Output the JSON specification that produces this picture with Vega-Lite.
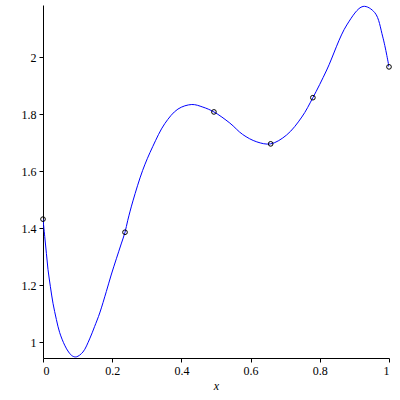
{
  "$schema": "https://vega.github.io/schema/vega-lite/v6.json",
  "width": 346,
  "height": 353,
  "autosize": {"type": "none"},
  "padding": {"left": 43, "top": 5, "right": 11, "bottom": 42},
  "background": "white",
  "config": {
    "view": {"stroke": null},
    "axis": {
      "grid": false,
      "domainColor": "black",
      "tickColor": "black",
      "labelColor": "black",
      "labelFont": "Liberation Serif",
      "labelFontSize": 12,
      "titleFont": "Liberation Serif",
      "titleColor": "black",
      "tickSize": 4,
      "domainWidth": 1,
      "tickWidth": 1
    }
  },
  "datasets": {
    "curve": [
      {"x": 0.0, "y": 1.432},
      {"x": 0.005, "y": 1.371},
      {"x": 0.0098, "y": 1.312},
      {"x": 0.0144, "y": 1.256},
      {"x": 0.0214, "y": 1.195},
      {"x": 0.0289, "y": 1.137},
      {"x": 0.0387, "y": 1.08},
      {"x": 0.0482, "y": 1.034},
      {"x": 0.0626, "y": 0.99},
      {"x": 0.074, "y": 0.966},
      {"x": 0.085, "y": 0.952},
      {"x": 0.0964, "y": 0.949},
      {"x": 0.1154, "y": 0.966},
      {"x": 0.1348, "y": 1.012},
      {"x": 0.149, "y": 1.055},
      {"x": 0.164, "y": 1.103},
      {"x": 0.183, "y": 1.178},
      {"x": 0.197, "y": 1.236},
      {"x": 0.212, "y": 1.293},
      {"x": 0.226, "y": 1.345},
      {"x": 0.237, "y": 1.386},
      {"x": 0.245, "y": 1.428},
      {"x": 0.26, "y": 1.496},
      {"x": 0.288, "y": 1.603},
      {"x": 0.317, "y": 1.686},
      {"x": 0.352, "y": 1.767},
      {"x": 0.39, "y": 1.818},
      {"x": 0.43, "y": 1.834},
      {"x": 0.462, "y": 1.825},
      {"x": 0.494, "y": 1.808},
      {"x": 0.54, "y": 1.769},
      {"x": 0.577, "y": 1.729},
      {"x": 0.618, "y": 1.703},
      {"x": 0.658, "y": 1.696},
      {"x": 0.704, "y": 1.727},
      {"x": 0.748, "y": 1.79},
      {"x": 0.78, "y": 1.858},
      {"x": 0.82, "y": 1.955},
      {"x": 0.878, "y": 2.113},
      {"x": 0.925, "y": 2.178},
      {"x": 0.959, "y": 2.156},
      {"x": 0.982, "y": 2.071},
      {"x": 1.0, "y": 1.966}
    ],
    "pts": [
      {"x": 0.0, "y": 1.432},
      {"x": 0.237, "y": 1.386},
      {"x": 0.494, "y": 1.808},
      {"x": 0.658, "y": 1.696},
      {"x": 0.78, "y": 1.858},
      {"x": 1.0, "y": 1.966}
    ]
  },
  "layer": [
    {
      "data": {"name": "curve"},
      "mark": {"type": "line", "color": "#0000ff", "strokeWidth": 1, "interpolate": "catmull-rom", "clip": true},
      "encoding": {
        "x": {
          "field": "x", "type": "quantitative",
          "scale": {"domain": [0, 1], "nice": false, "zero": false},
          "axis": {
            "values": [0, 0.1, 0.2, 0.3, 0.4, 0.5, 0.6, 0.7, 0.8, 0.9, 1],
            "format": ".1~f",
            "labelExpr": "round(datum.value*10)%2==1 ? '' : datum.label",
            "title": "x",
            "titleFontStyle": "italic",
            "titleFontWeight": "normal",
            "titleFontSize": 12,
            "titlePadding": 4,
            "labelPadding": 3
          }
        },
        "y": {
          "field": "y", "type": "quantitative",
          "scale": {"domain": [0.945, 2.183], "nice": false, "zero": false},
          "axis": {
            "values": [1.0, 1.1, 1.2, 1.3, 1.4, 1.5, 1.6, 1.7, 1.8, 1.9, 2.0, 2.1],
            "format": ".1~f",
            "labelExpr": "round(datum.value*10)%2==1 ? '' : datum.label",
            "title": null,
            "labelPadding": 3
          }
        }
      }
    },
    {
      "data": {"name": "pts"},
      "mark": {"type": "point", "shape": "circle", "filled": false, "color": "black", "size": 22, "strokeWidth": 1, "opacity": 1},
      "encoding": {
        "x": {"field": "x", "type": "quantitative"},
        "y": {"field": "y", "type": "quantitative"}
      }
    }
  ]
}
